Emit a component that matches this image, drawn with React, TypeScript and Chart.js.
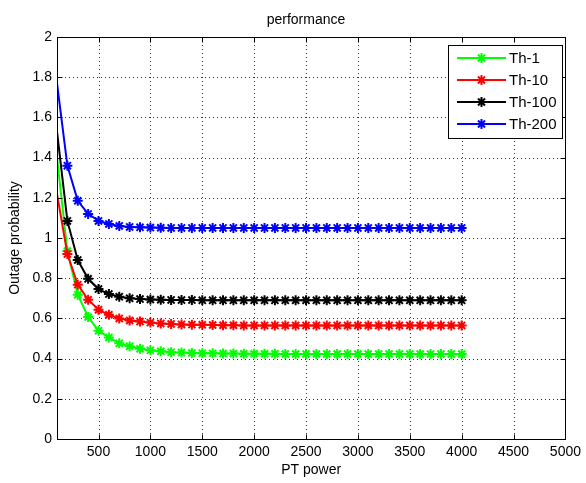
import React, { useEffect, useRef } from "react";
import { Chart, registerables } from "chart.js";

Chart.register(...registerables);

const xValues = [
  100, 200, 300, 400, 500, 600, 700, 800, 900, 1000,
  1100, 1200, 1300, 1400, 1500, 1600, 1700, 1800, 1900, 2000,
  2100, 2200, 2300, 2400, 2500, 2600, 2700, 2800, 2900, 3000,
  3100, 3200, 3300, 3400, 3500, 3600, 3700, 3800, 3900, 4000,
];

const th1 = [
  1.40, 0.935, 0.718, 0.607, 0.539, 0.505, 0.476, 0.461, 0.449, 0.441,
  0.436, 0.432, 0.430, 0.428, 0.427, 0.426, 0.425, 0.425, 0.424, 0.424,
  0.424, 0.424, 0.423, 0.423, 0.423, 0.423, 0.423, 0.423, 0.423, 0.423,
  0.423, 0.423, 0.423, 0.423, 0.423, 0.423, 0.423, 0.423, 0.423, 0.423,
];

const th10 = [
  1.22, 0.92, 0.768, 0.693, 0.643, 0.618, 0.600, 0.590, 0.584, 0.579,
  0.575, 0.572, 0.570, 0.569, 0.568, 0.567, 0.566, 0.566, 0.565, 0.565,
  0.565, 0.565, 0.565, 0.565, 0.565, 0.565, 0.565, 0.565, 0.565, 0.565,
  0.565, 0.565, 0.565, 0.565, 0.565, 0.565, 0.565, 0.565, 0.565, 0.565,
];

const th100 = [
  1.53, 1.085, 0.89, 0.797, 0.746, 0.721, 0.708, 0.700, 0.696, 0.694,
  0.693, 0.692, 0.691, 0.691, 0.690, 0.690, 0.690, 0.690, 0.690, 0.690,
  0.690, 0.690, 0.690, 0.690, 0.690, 0.690, 0.690, 0.690, 0.690, 0.690,
  0.690, 0.690, 0.690, 0.690, 0.690, 0.690, 0.690, 0.690, 0.690, 0.690,
];

const th200 = [
  1.77, 1.36, 1.185, 1.12, 1.085, 1.07, 1.06, 1.055, 1.053, 1.052,
  1.051, 1.050, 1.050, 1.050, 1.050, 1.050, 1.050, 1.050, 1.050, 1.050,
  1.050, 1.050, 1.050, 1.050, 1.050, 1.050, 1.050, 1.050, 1.050, 1.050,
  1.050, 1.050, 1.050, 1.050, 1.050, 1.050, 1.050, 1.050, 1.050, 1.050,
];

const seriesLabels = ["Th-1", "Th-10", "Th-100", "Th-200"];
const seriesColors = ["#00ff00", "#ff0000", "#000000", "#0000ff"];
const seriesValues = [th1, th10, th100, th200];

const xTicks = [500, 1000, 1500, 2000, 2500, 3000, 3500, 4000, 4500, 5000];
const yTicks = [0, 0.2, 0.4, 0.6, 0.8, 1, 1.2, 1.4, 1.6, 1.8, 2];

const titleText = "performance";
const xTitle = "PT power";
const yTitle = "Outage probability";

const FONT = "'Liberation Sans', Arial, sans-serif";

const matlabPlugin = {
  id: "matlabFrame",
  beforeDatasetsDraw(chart: any) {
    const { ctx, chartArea: a, scales } = chart;
    ctx.save();
    ctx.strokeStyle = "#333";
    ctx.lineWidth = 1;
    ctx.setLineDash([1, 3]);
    for (const v of xTicks) {
      const x = Math.round(scales.x.getPixelForValue(v)) + 0.5;
      if (x <= a.left + 1 || x >= a.right - 1) continue;
      ctx.beginPath();
      ctx.moveTo(x, a.top);
      ctx.lineTo(x, a.bottom);
      ctx.stroke();
    }
    for (const v of yTicks) {
      const y = Math.round(scales.y.getPixelForValue(v)) + 0.5;
      if (y <= a.top + 1 || y >= a.bottom - 1) continue;
      ctx.beginPath();
      ctx.moveTo(a.left, y);
      ctx.lineTo(a.right, y);
      ctx.stroke();
    }
    ctx.restore();
  },
  afterDatasetsDraw(chart: any) {
    const { ctx, chartArea: a, scales } = chart;
    ctx.save();
    ctx.setLineDash([]);
    ctx.strokeStyle = "#000";
    ctx.lineWidth = 1;
    const L = Math.round(a.left) + 0.5;
    const R = Math.round(a.right) + 0.5;
    const T = Math.round(a.top) + 0.5;
    const B = Math.round(a.bottom) + 0.5;
    ctx.strokeRect(L, T, R - L, B - T);
    const tl = 5;
    ctx.beginPath();
    for (const v of xTicks) {
      const x = Math.round(scales.x.getPixelForValue(v)) + 0.5;
      ctx.moveTo(x, B);
      ctx.lineTo(x, B - tl);
      ctx.moveTo(x, T);
      ctx.lineTo(x, T + tl);
    }
    for (const v of yTicks) {
      const y = Math.round(scales.y.getPixelForValue(v)) + 0.5;
      ctx.moveTo(L, y);
      ctx.lineTo(L + tl, y);
      ctx.moveTo(R, y);
      ctx.lineTo(R - tl, y);
    }
    ctx.stroke();

    // legend
    const bx = 448.5, by = 45.5, bw = 114, bh = 93;
    ctx.fillStyle = "#fff";
    ctx.fillRect(bx, by, bw, bh);
    ctx.strokeRect(bx, by, bw, bh);
    ctx.font = `15px ${FONT}`;
    ctx.textBaseline = "middle";
    ctx.textAlign = "left";
    seriesLabels.forEach((label, i) => {
      const y = 58 + i * 22;
      ctx.strokeStyle = seriesColors[i];
      ctx.lineWidth = 2;
      ctx.beginPath();
      ctx.moveTo(457, y);
      ctx.lineTo(506, y);
      ctx.stroke();
      const cx = 481.5;
      const r = 5;
      ctx.beginPath();
      ctx.moveTo(cx - r, y);
      ctx.lineTo(cx + r, y);
      ctx.moveTo(cx, y - r);
      ctx.lineTo(cx, y + r);
      const d = r * Math.SQRT1_2;
      ctx.moveTo(cx - d, y - d);
      ctx.lineTo(cx + d, y + d);
      ctx.moveTo(cx - d, y + d);
      ctx.lineTo(cx + d, y - d);
      ctx.stroke();
      ctx.fillStyle = "#000";
      ctx.fillText(label, 509, y + 1);
    });

    // title
    ctx.font = `14px ${FONT}`;
    ctx.textAlign = "center";
    ctx.fillStyle = "#000";
    ctx.fillText(titleText, 306, 20);
    ctx.restore();
  },
};

export default function App() {
  const ref = useRef<HTMLCanvasElement | null>(null);
  useEffect(() => {
    document.body.style.margin = "0";
    const canvas = ref.current;
    if (!canvas) return;
    const chart = new Chart(canvas, {
      type: "line",
      data: {
        datasets: seriesValues.map((vals, i) => ({
          label: seriesLabels[i],
          data: xValues.map((x, j) => ({ x, y: vals[j] })),
          order: seriesValues.length - i,
          borderColor: seriesColors[i],
          backgroundColor: seriesColors[i],
          pointBackgroundColor: seriesColors[i],
          pointBorderColor: seriesColors[i],
          borderWidth: 2,
          pointStyle: "star",
          pointRadius: (c: any) => (c.dataIndex === 0 ? 0 : 5),
          pointBorderWidth: 2,
          tension: 0,
          fill: false,
        })),
      },
      options: {
        animation: false,
        responsive: false,
        events: [],
        layout: { padding: { top: 37, right: 17, left: 0, bottom: 0 } },
        plugins: {
          legend: { display: false },
          title: { display: false },
          tooltip: { enabled: false },
        },
        scales: {
          x: {
            type: "linear",
            min: 100,
            max: 5000,
            afterBuildTicks: (s: any) => {
              s.ticks = xTicks.map((v) => ({ value: v }));
            },
            afterFit: (s: any) => {
              s.height = 44;
            },
            grid: { display: false, drawTicks: false },
            border: { display: false },
            ticks: {
              color: "#000",
              font: { family: FONT, size: 14 },
              padding: 5,
              maxRotation: 0,
              autoSkip: false,
              callback: (v: any) => String(v),
            },
            title: {
              display: true,
              text: xTitle,
              color: "#000",
              font: { family: FONT, size: 14 },
              padding: { top: 0, bottom: 4 },
            },
          },
          y: {
            type: "linear",
            min: 0,
            max: 2,
            afterBuildTicks: (s: any) => {
              s.ticks = yTicks.map((v) => ({ value: v }));
            },
            afterFit: (s: any) => {
              s.width = 57;
            },
            grid: { display: false, drawTicks: false },
            border: { display: false },
            ticks: {
              color: "#000",
              font: { family: FONT, size: 14 },
              padding: 5,
              autoSkip: false,
              callback: (v: any) => String(Number(Number(v).toFixed(1))),
            },
            title: {
              display: true,
              text: yTitle,
              color: "#000",
              font: { family: FONT, size: 14 },
              padding: { top: 7, bottom: 0 },
            },
          },
        },
      },
      plugins: [matlabPlugin],
    });
    return () => chart.destroy();
  }, []);
  return (
    <div style={{ position: "absolute", left: 0, top: 0, width: 586, height: 483, background: "#fff" }}>
      <canvas ref={ref} width={586} height={483} style={{ display: "block" }} />
    </div>
  );
}
